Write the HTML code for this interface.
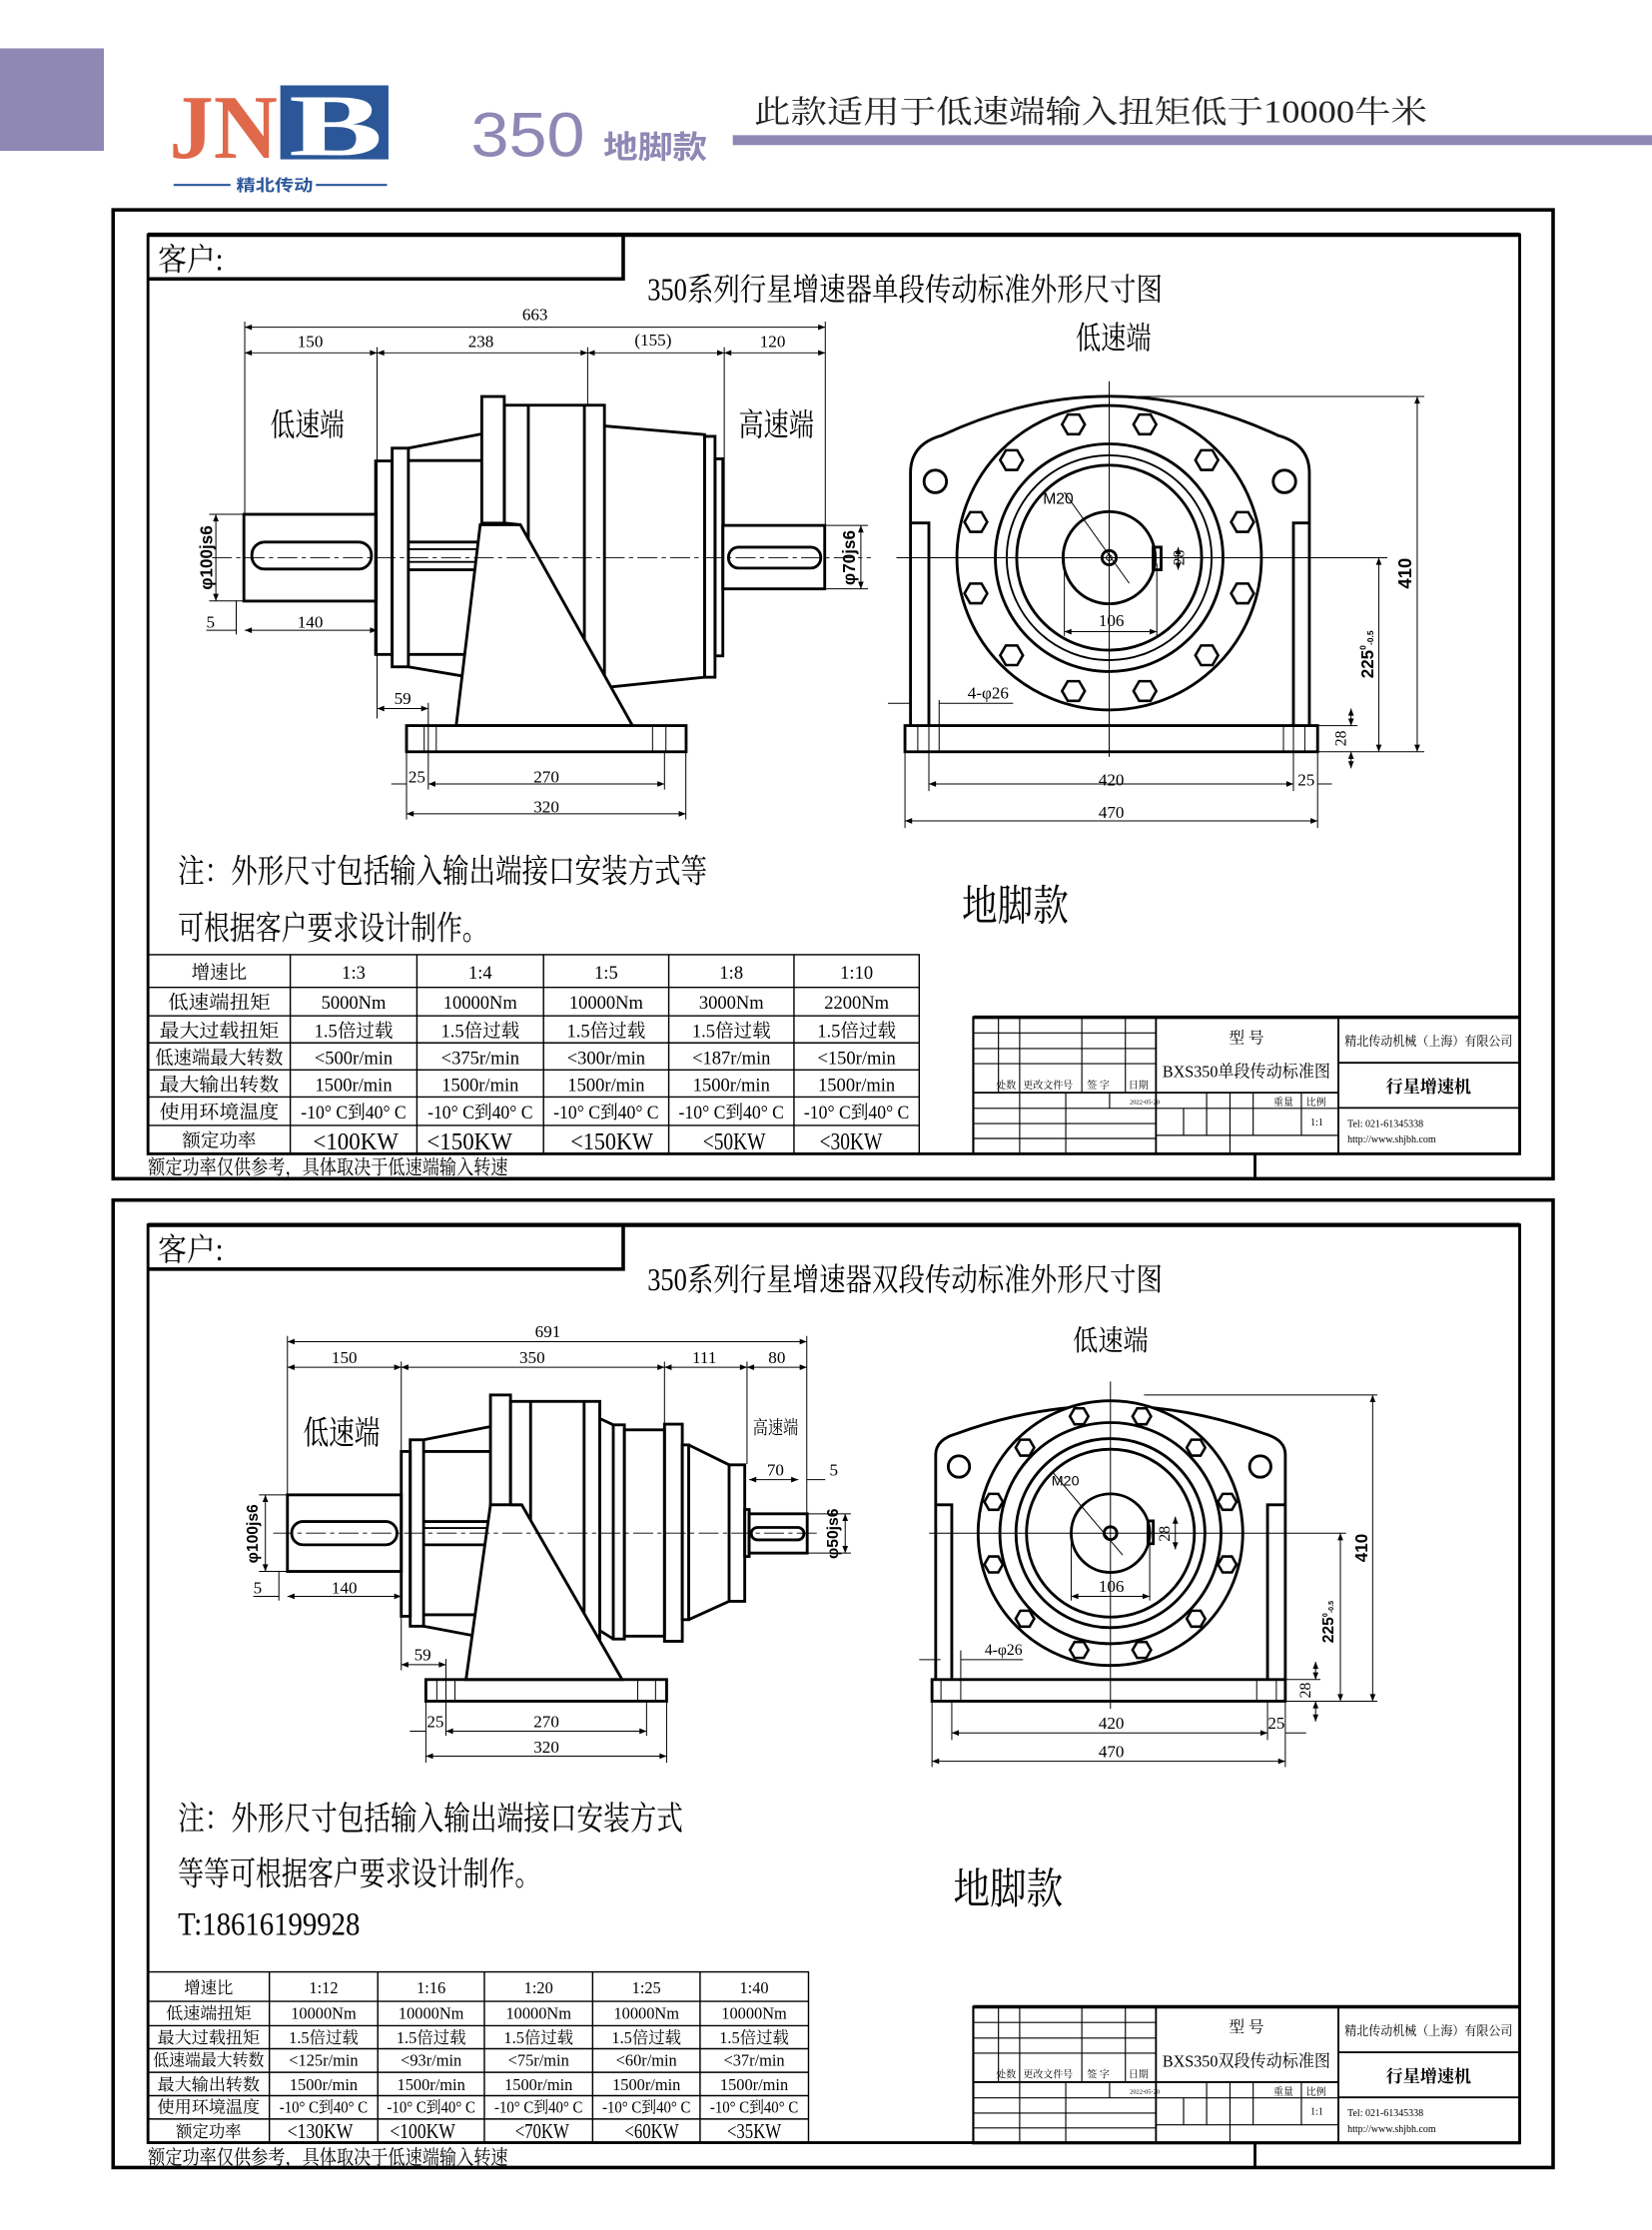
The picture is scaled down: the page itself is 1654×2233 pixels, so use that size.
<!DOCTYPE html>
<html><head><meta charset="utf-8">
<style>
html,body{margin:0;padding:0;background:#fff;}
svg{display:block;}
.t{fill:none;stroke:#000;stroke-width:2;}
.m{fill:none;stroke:#000;stroke-width:1.3;}
.n{fill:none;stroke:#000;stroke-width:0.7;}
.d{fill:none;stroke:#000;stroke-width:0.7;marker-start:url(#ar);marker-end:url(#ar);}
.c{fill:none;stroke:#000;stroke-width:0.6;stroke-dasharray:14 3 3 3;}
text{font-family:"Liberation Serif","Noto Serif CJK SC",serif;fill:#000;}
.s{font-family:"Liberation Sans","Noto Sans CJK SC",sans-serif;}
</style></head>
<body>
<svg width="1654" height="2233" viewBox="0 0 1161 1567.4" preserveAspectRatio="none" xmlns="http://www.w3.org/2000/svg">
<defs>
<marker id="ar" viewBox="0 0 10 10" refX="10" refY="5" markerWidth="6" markerHeight="5" markerUnits="userSpaceOnUse" orient="auto-start-reverse"><path d="M0,1 L10,5 L0,9z" fill="#000"/></marker>
<polygon id="hx" points="8,0 4,6.9 -4,6.9 -8,0 -4,-6.9 4,-6.9" fill="#fff" stroke="#000" stroke-width="1.8"/>
<polygon id="hy" points="6.5,0 3.25,5.6 -3.25,5.6 -6.5,0 -3.25,-5.6 3.25,-5.6" fill="#fff" stroke="#000" stroke-width="1.8"/>
</defs>

<!-- HEADER -->
<rect x="0" y="34" width="73" height="72" fill="#8f87b4"/>
<text x="119" y="111" font-size="64" font-weight="bold" fill="#e0694b" textLength="76" lengthAdjust="spacingAndGlyphs" style="fill:#e0694b">JN</text>
<rect x="197" y="60" width="76" height="52" fill="#2b5799"/>
<text x="203" y="109" font-size="62" font-weight="bold" textLength="66" lengthAdjust="spacingAndGlyphs" style="fill:#fff">B</text>
<line x1="122" y1="130" x2="162" y2="130" stroke="#2b5799" stroke-width="1.5"/>
<line x1="222" y1="130" x2="272" y2="130" stroke="#2b5799" stroke-width="1.5"/>
<text x="166" y="134" font-size="11" font-weight="bold" textLength="54" lengthAdjust="spacingAndGlyphs" class="s" style="fill:#2b5799">精北传动</text>
<text x="331" y="110" font-size="44" class="s" textLength="80" lengthAdjust="spacingAndGlyphs" style="fill:#8f87b4">350</text>
<text x="424" y="111" font-size="22" font-weight="bold" class="s" textLength="73" lengthAdjust="spacingAndGlyphs" style="fill:#8f87b4">地脚款</text>
<text x="530" y="86" font-size="22" textLength="473" lengthAdjust="spacingAndGlyphs" style="fill:#222">此款适用于低速端输入扭矩低于10000牛米</text>
<rect x="515" y="95" width="646" height="7" fill="#8f87b4"/>

<!-- ============ FRAME 1 ============ -->
<rect x="79.5" y="147.5" width="1012" height="681" fill="none" stroke="#000" stroke-width="2.5"/>
<rect x="104" y="165" width="964" height="646" fill="none" stroke="#000" stroke-width="2"/>
<line x1="104" y1="165" x2="1068" y2="165" stroke="#000" stroke-width="3"/>
<polyline points="104,196 438,196 438,165" fill="none" stroke="#000" stroke-width="2.5"/>
<line x1="882" y1="811" x2="882" y2="829" stroke="#000" stroke-width="2"/>
<text x="111" y="190" font-size="22" textLength="46" lengthAdjust="spacingAndGlyphs">客户:</text>
<text x="455" y="211" font-size="22" textLength="362" lengthAdjust="spacingAndGlyphs">350系列行星增速器单段传动标准外形尺寸图</text>

<!-- side view 1 -->
<g>
<rect class="t" x="171.4" y="361.5" width="93" height="61"/>
<rect class="t" x="177" y="381" width="84" height="19" rx="9"/>
<rect class="t" x="264" y="324" width="11.6" height="136"/>
<rect class="t" x="275.6" y="315" width="11.4" height="153.7"/>
<line class="t" x1="287" y1="315" x2="338.6" y2="305"/>
<line class="t" x1="287" y1="468.7" x2="324" y2="475"/>
<line class="t" x1="287" y1="323.7" x2="338.6" y2="323.7"/>
<line class="t" x1="287" y1="460" x2="326" y2="460"/>
<line class="t" x1="287" y1="381" x2="338" y2="381"/>
<line class="t" x1="287" y1="400.5" x2="333" y2="400.5"/>
<line class="m" x1="287" y1="386" x2="337" y2="386"/>
<line class="m" x1="287" y1="395" x2="335" y2="395"/>
<rect class="t" x="338.6" y="278.7" width="15.8" height="89"/>
<rect class="t" x="354.4" y="284.8" width="70.4" height="198.5"/>
<line class="t" x1="371.3" y1="284.8" x2="371.3" y2="483"/>
<line class="t" x1="410.7" y1="284.8" x2="410.7" y2="483"/>
<path class="t" d="M424.8,299.4 L495.2,305.5 L495.2,476 L424.8,483.3"/>
<rect class="t" x="495.2" y="306.7" width="7.3" height="169.3"/>
<rect class="t" x="502.5" y="322.5" width="5.5" height="138.5"/>
<path d="M337.5,368.8 L320.6,510 L444.5,510 L365.7,368.8 Z" fill="#fff" stroke="#000" stroke-width="2"/>
<line class="t" x1="354.4" y1="367.6" x2="365.7" y2="368.8"/>
<rect class="t" x="508" y="369.3" width="71.6" height="44.6"/>
<rect class="t" x="512" y="384.6" width="64.8" height="14.7" rx="7"/>
<rect class="t" x="285.7" y="510" width="196.5" height="18.4" fill="#fff"/>
<line class="n" x1="298.1" y1="510" x2="298.1" y2="528.4"/>
<line class="n" x1="306.6" y1="510" x2="306.6" y2="528.4"/>
<line class="n" x1="458.6" y1="510" x2="458.6" y2="528.4"/>
<line class="n" x1="468" y1="510" x2="468" y2="528.4"/>
<line class="c" x1="149" y1="392" x2="612" y2="392"/>
<!-- dims -->
<line class="n" x1="172" y1="226" x2="172" y2="361"/>
<line class="n" x1="265" y1="244" x2="265" y2="505"/>
<line class="n" x1="413" y1="244" x2="413" y2="284"/>
<line class="n" x1="509" y1="244" x2="509" y2="369"/>
<line class="n" x1="580" y1="226" x2="580" y2="369"/>
<line class="d" x1="172" y1="230" x2="580" y2="230"/>
<text x="376" y="225" font-size="12" text-anchor="middle">663</text>
<line class="d" x1="172" y1="248" x2="265" y2="248"/>
<line class="d" x1="265" y1="248" x2="413" y2="248"/>
<line class="d" x1="413" y1="248" x2="509" y2="248"/>
<line class="d" x1="509" y1="248" x2="580" y2="248"/>
<text x="218" y="244" font-size="12" text-anchor="middle">150</text>
<text x="338" y="244" font-size="12" text-anchor="middle">238</text>
<text x="459" y="243" font-size="12" text-anchor="middle">(155)</text>
<text x="543" y="244" font-size="12" text-anchor="middle">120</text>
<text x="190" y="306" font-size="22" textLength="52" lengthAdjust="spacingAndGlyphs">低速端</text>
<text x="519" y="306" font-size="22" textLength="53" lengthAdjust="spacingAndGlyphs">高速端</text>
<line class="n" x1="147" y1="361.5" x2="171" y2="361.5"/>
<line class="n" x1="147" y1="422.4" x2="171" y2="422.4"/>
<line class="d" x1="151.7" y1="361.5" x2="151.7" y2="422.4"/>
<text transform="translate(149,392) rotate(-90)" font-size="12" text-anchor="middle" class="s" font-weight="bold">φ100js6</text>
<line class="n" x1="580" y1="369.3" x2="610" y2="369.3"/>
<line class="n" x1="580" y1="413.9" x2="610" y2="413.9"/>
<line class="d" x1="605" y1="369.3" x2="605" y2="413.9"/>
<text transform="translate(601,392) rotate(-90)" font-size="12" text-anchor="middle" class="s" font-weight="bold">φ70js6</text>
<line class="n" x1="166" y1="422" x2="166" y2="446"/>
<line class="n" x1="145" y1="443" x2="166" y2="443"/>
<line class="d" x1="172" y1="443" x2="265" y2="443"/>
<text x="148" y="441" font-size="12" text-anchor="middle">5</text>
<text x="218" y="441" font-size="12" text-anchor="middle">140</text>
<line class="n" x1="301" y1="494" x2="301" y2="555"/>
<line class="d" x1="265" y1="498" x2="301" y2="498"/>
<text x="283" y="495" font-size="12" text-anchor="middle">59</text>
<line class="n" x1="285.7" y1="528" x2="285.7" y2="576"/>
<line class="n" x1="467" y1="528" x2="467" y2="555"/>
<line class="n" x1="482" y1="528" x2="482" y2="576"/>
<line class="n" x1="275" y1="551" x2="285.7" y2="551"/>
<line class="d" x1="301" y1="551" x2="467" y2="551"/>
<text x="293" y="550" font-size="12" text-anchor="middle">25</text>
<text x="384" y="550" font-size="12" text-anchor="middle">270</text>
<line class="d" x1="285.7" y1="572" x2="482" y2="572"/>
<text x="384" y="571" font-size="12" text-anchor="middle">320</text>
</g>

<!-- front view 1 -->
<g>
<path class="t" d="M639.9,510 L639.9,332 Q640,312 662,306 Q780,251 898,306 Q920,312 920.2,332 L920.2,510"/>
<path class="t" d="M639.9,367.6 H652.8 V510 M920.2,367.6 H909 V510"/>
<circle class="t" cx="657.3" cy="338.4" r="7.9"/>
<circle class="t" cx="902.7" cy="338.4" r="7.9"/>
<circle cx="779.5" cy="392" r="107" fill="#fff" stroke="#000" stroke-width="2"/>
<circle class="t" cx="779.5" cy="392" r="80"/>
<circle class="m" cx="779.5" cy="392" r="72"/>
<circle class="t" cx="779.5" cy="392" r="65"/>
<circle class="t" cx="779.5" cy="392" r="32.4"/>
<circle class="t" cx="779.5" cy="392" r="5"/>
<circle class="n" cx="779.5" cy="392" r="2"/>
<use href="#hx" x="873.2" y="417.1"/><use href="#hx" x="873.2" y="366.9"/>
<use href="#hx" x="685.8" y="417.1"/><use href="#hx" x="685.8" y="366.9"/>
<use href="#hx" x="848.1" y="460.6"/><use href="#hx" x="848.1" y="323.4"/>
<use href="#hx" x="710.9" y="460.6"/><use href="#hx" x="710.9" y="323.4"/>
<use href="#hx" x="804.6" y="485.7"/><use href="#hx" x="804.6" y="298.3"/>
<use href="#hx" x="754.4" y="485.7"/><use href="#hx" x="754.4" y="298.3"/>
<rect class="t" x="810.4" y="384.6" width="5.6" height="15.9"/>
<line class="n" x1="779.5" y1="268" x2="779.5" y2="532"/>
<line class="n" x1="630" y1="392" x2="935" y2="392"/>
<line class="n" x1="748" y1="346" x2="793.6" y2="410"/>
<text x="733" y="354" font-size="11" class="s">M20</text>
<line class="d" x1="828" y1="384.6" x2="828" y2="400.5"/>
<text transform="translate(832,392) rotate(-90)" font-size="11" text-anchor="middle">28</text>
<line class="n" x1="748" y1="392" x2="748" y2="447"/>
<line class="n" x1="813" y1="396" x2="813" y2="447"/>
<line class="d" x1="748" y1="444" x2="813" y2="444"/>
<text x="781" y="440" font-size="12" text-anchor="middle">106</text>
<rect class="t" x="636" y="510" width="290" height="18.4" fill="#fff"/>
<line class="n" x1="645" y1="510" x2="645" y2="528.4"/>
<line class="n" x1="652.8" y1="510" x2="652.8" y2="528.4"/>
<line class="n" x1="660" y1="492" x2="660" y2="528.4"/>
<line class="n" x1="902" y1="510" x2="902" y2="528.4"/>
<line class="n" x1="909" y1="510" x2="909" y2="528.4"/>
<line class="n" x1="917" y1="510" x2="917" y2="528.4"/>
<line class="n" x1="624" y1="494.3" x2="640" y2="494.3"/>
<line class="n" x1="660" y1="494.3" x2="712" y2="494.3"/>
<text x="680" y="491" font-size="12">4-φ26</text>
<line class="n" x1="780" y1="278.7" x2="1001" y2="278.7"/>
<line class="n" x1="926" y1="528.4" x2="1001" y2="528.4"/>
<line class="d" x1="996" y1="278.7" x2="996" y2="528.4"/>
<text transform="translate(992,403) rotate(-90)" font-size="13" text-anchor="middle" class="s" font-weight="bold">410</text>
<line class="n" x1="935" y1="392" x2="975" y2="392"/>
<line class="d" x1="969" y1="392" x2="969" y2="528.4"/>
<text transform="translate(965,460) rotate(-90)" font-size="12" text-anchor="middle" class="s" font-weight="bold">225<tspan font-size="6" dy="-5">0</tspan><tspan font-size="6" dy="5">-0.5</tspan></text>
<line class="n" x1="926" y1="510" x2="954" y2="510"/>
<line class="d" x1="949.5" y1="498" x2="949.5" y2="510"/>
<line class="d" x1="949.5" y1="540" x2="949.5" y2="528.4"/>
<text transform="translate(946,519) rotate(-90)" font-size="11" text-anchor="middle">28</text>
<line class="n" x1="652.8" y1="528" x2="652.8" y2="556"/>
<line class="n" x1="909" y1="528" x2="909" y2="556"/>
<line class="n" x1="636" y1="528" x2="636" y2="582"/>
<line class="n" x1="926" y1="528" x2="926" y2="582"/>
<line class="d" x1="652.8" y1="551" x2="909" y2="551"/>
<line class="n" x1="926" y1="551" x2="936" y2="551"/>
<text x="781" y="552" font-size="12" text-anchor="middle">420</text>
<text x="918" y="552" font-size="12" text-anchor="middle">25</text>
<line class="d" x1="636" y1="577" x2="926" y2="577"/>
<text x="781" y="575" font-size="12" text-anchor="middle">470</text>
<text x="756" y="245" font-size="22" textLength="53" lengthAdjust="spacingAndGlyphs">低速端</text>
</g>

<text x="125" y="620" font-size="23" textLength="372" lengthAdjust="spacingAndGlyphs">注：外形尺寸包括输入输出端接口安装方式等</text>
<text x="125" y="660" font-size="23" textLength="218" lengthAdjust="spacingAndGlyphs">可根据客户要求设计制作。</text>
<text x="676" y="647" font-size="30" textLength="75" lengthAdjust="spacingAndGlyphs">地脚款</text>

<!-- table 1 -->
<g stroke="#000" stroke-width="1" fill="none">
<rect x="104" y="671" width="542" height="140"/>
<line x1="104" y1="694" x2="646" y2="694"/><line x1="104" y1="714" x2="646" y2="714"/>
<line x1="104" y1="733" x2="646" y2="733"/><line x1="104" y1="752" x2="646" y2="752"/>
<line x1="104" y1="771" x2="646" y2="771"/><line x1="104" y1="791" x2="646" y2="791"/>
<line x1="204" y1="671" x2="204" y2="811"/><line x1="293" y1="671" x2="293" y2="811"/>
<line x1="382" y1="671" x2="382" y2="811"/><line x1="470" y1="671" x2="470" y2="811"/>
<line x1="558" y1="671" x2="558" y2="811"/>
</g>
<g font-size="13" text-anchor="middle">
<text x="154" y="688">增速比</text><text x="248.5" y="688">1:3</text><text x="337.5" y="688">1:4</text><text x="426" y="688">1:5</text><text x="514" y="688">1:8</text><text x="602" y="688">1:10</text>
<text x="154" y="709" textLength="72" lengthAdjust="spacingAndGlyphs">低速端扭矩</text><text x="248.5" y="709">5000Nm</text><text x="337.5" y="709">10000Nm</text><text x="426" y="709">10000Nm</text><text x="514" y="709">3000Nm</text><text x="602" y="709">2200Nm</text>
<text x="154" y="729" textLength="84" lengthAdjust="spacingAndGlyphs">最大过载扭矩</text><text x="248.5" y="729">1.5倍过载</text><text x="337.5" y="729">1.5倍过载</text><text x="426" y="729">1.5倍过载</text><text x="514" y="729">1.5倍过载</text><text x="602" y="729">1.5倍过载</text>
<text x="154" y="748" textLength="90" lengthAdjust="spacingAndGlyphs">低速端最大转数</text><text x="248.5" y="748">&lt;500r/min</text><text x="337.5" y="748">&lt;375r/min</text><text x="426" y="748">&lt;300r/min</text><text x="514" y="748">&lt;187r/min</text><text x="602" y="748">&lt;150r/min</text>
<text x="154" y="767" textLength="84" lengthAdjust="spacingAndGlyphs">最大输出转数</text><text x="248.5" y="767">1500r/min</text><text x="337.5" y="767">1500r/min</text><text x="426" y="767">1500r/min</text><text x="514" y="767">1500r/min</text><text x="602" y="767">1500r/min</text>
<text x="154" y="786" textLength="84" lengthAdjust="spacingAndGlyphs">使用环境温度</text><text x="248.5" y="786" textLength="74" lengthAdjust="spacingAndGlyphs">-10° C到40° C</text><text x="337.5" y="786" textLength="74" lengthAdjust="spacingAndGlyphs">-10° C到40° C</text><text x="426" y="786" textLength="74" lengthAdjust="spacingAndGlyphs">-10° C到40° C</text><text x="514" y="786" textLength="74" lengthAdjust="spacingAndGlyphs">-10° C到40° C</text><text x="602" y="786" textLength="74" lengthAdjust="spacingAndGlyphs">-10° C到40° C</text>
<text x="154" y="806">额定功率</text>
</g>
<g font-size="17" text-anchor="middle">
<text x="250" y="808" textLength="60" lengthAdjust="spacingAndGlyphs">&lt;100KW</text><text x="330" y="808" textLength="60" lengthAdjust="spacingAndGlyphs">&lt;150KW</text><text x="430" y="808" textLength="58" lengthAdjust="spacingAndGlyphs">&lt;150KW</text><text x="516" y="808" textLength="44" lengthAdjust="spacingAndGlyphs">&lt;50KW</text><text x="598" y="808" textLength="44" lengthAdjust="spacingAndGlyphs">&lt;30KW</text>
</g>
<text x="104" y="825" font-size="14" textLength="253" lengthAdjust="spacingAndGlyphs">额定功率仅供参考，具体取决于低速端输入转速</text>

<!-- title block 1 -->
<g stroke="#000" stroke-width="0.8" fill="none">
<rect x="684" y="715" width="384" height="96" stroke-width="1.5"/>
<line x1="684" y1="715" x2="1068" y2="715" stroke-width="2.5"/>
<line x1="812.4" y1="715" x2="812.4" y2="811" stroke-width="1.3"/>
<line x1="940.6" y1="715" x2="940.6" y2="811" stroke-width="1.3"/>
<line x1="701.7" y1="715" x2="701.7" y2="768"/><line x1="716.6" y1="715" x2="716.6" y2="811"/>
<line x1="760.3" y1="715" x2="760.3" y2="768"/><line x1="790.9" y1="715" x2="790.9" y2="768"/>
<line x1="684" y1="726" x2="812" y2="726"/><line x1="684" y1="737" x2="812" y2="737"/><line x1="684" y1="747.6" x2="812" y2="747.6"/>
<line x1="684" y1="768" x2="940" y2="768" stroke-width="1.3"/>
<line x1="749" y1="768" x2="749" y2="811"/><line x1="779.8" y1="768" x2="779.8" y2="779"/>
<line x1="684" y1="779" x2="812" y2="779"/><line x1="684" y1="789.7" x2="812" y2="789.7"/><line x1="684" y1="800.2" x2="812" y2="800.2"/>
<line x1="831.8" y1="779" x2="831.8" y2="798"/><line x1="848" y1="768" x2="848" y2="798"/><line x1="864.4" y1="768" x2="864.4" y2="811"/>
<line x1="880.7" y1="768" x2="880.7" y2="798"/><line x1="914.6" y1="768" x2="914.6" y2="798"/>
<line x1="812" y1="779" x2="940" y2="779"/><line x1="812" y1="798" x2="940" y2="798"/>
<line x1="940.6" y1="747" x2="1068" y2="747" stroke-width="1.3"/><line x1="940.6" y1="778.7" x2="1068" y2="778.7" stroke-width="1.3"/>
</g>
<g font-size="7">
<text x="700" y="765">处数</text><text x="719" y="765">更改文件号</text><text x="764" y="765">签 字</text><text x="793" y="765">日期</text>
<text x="794" y="776" font-size="4.5">2022-05-20</text>
<text x="895" y="777">重量</text><text x="918" y="777">比例</text><text x="921" y="791">1:1</text>
<text x="947" y="792">Tel: 021-61345338</text><text x="947" y="803">http://www.shjbh.com</text>
</g>
<text x="876" y="733" font-size="11" text-anchor="middle">型  号</text>
<text x="817" y="757" font-size="12" textLength="118" lengthAdjust="spacingAndGlyphs">BXS350单段传动标准图</text>
<text x="1004" y="735" font-size="9" text-anchor="middle" textLength="118" lengthAdjust="spacingAndGlyphs">精北传动机械（上海）有限公司</text>
<text x="1004" y="768" font-size="12" font-weight="bold" text-anchor="middle">行星增速机</text>

<!-- ============ FRAME 2 ============ -->
<rect x="79.5" y="843.5" width="1012" height="680" fill="none" stroke="#000" stroke-width="2.5"/>
<rect x="104" y="861" width="964" height="645" fill="none" stroke="#000" stroke-width="2"/>
<line x1="104" y1="861" x2="1068" y2="861" stroke="#000" stroke-width="3"/>
<polyline points="104,892 438,892 438,861" fill="none" stroke="#000" stroke-width="2.5"/>
<line x1="882" y1="1506" x2="882" y2="1524" stroke="#000" stroke-width="2"/>
<text x="111" y="886" font-size="22" textLength="46" lengthAdjust="spacingAndGlyphs">客户:</text>
<text x="455" y="907" font-size="22" textLength="362" lengthAdjust="spacingAndGlyphs">350系列行星增速器双段传动标准外形尺寸图</text>

<!-- side view 2 -->
<g>
<rect class="t" x="202" y="1050.7" width="80" height="53.8"/>
<rect class="t" x="205" y="1069.4" width="74" height="16.4" rx="8"/>
<rect class="t" x="282" y="1020.2" width="6.3" height="115.8"/>
<rect class="t" x="288.3" y="1012" width="9.4" height="131"/>
<line class="t" x1="297.7" y1="1012" x2="344.7" y2="1002.7"/>
<line class="t" x1="297.7" y1="1143" x2="332" y2="1149.5"/>
<line class="t" x1="297.7" y1="1020.2" x2="344.7" y2="1020.2"/>
<line class="t" x1="297.7" y1="1135" x2="336" y2="1135"/>
<line class="t" x1="297.7" y1="1069.4" x2="344.7" y2="1069.4"/>
<line class="t" x1="297.7" y1="1085.8" x2="341" y2="1085.8"/>
<line class="m" x1="297.7" y1="1074" x2="344" y2="1074"/>
<rect class="t" x="344.7" y="980.5" width="14.1" height="77.2"/>
<rect class="t" x="358.8" y="985" width="62.7" height="168.6"/>
<line class="t" x1="372.9" y1="985" x2="372.9" y2="1153"/>
<line class="t" x1="410.5" y1="985" x2="410.5" y2="1153"/>
<path class="t" d="M421.5,997 L431,1001.5 M421.5,1146 L431,1152"/>
<rect class="t" x="431" y="1001.5" width="7.8" height="150.5"/>
<rect class="t" x="438.8" y="1005" width="28.2" height="145"/>
<rect class="t" x="467" y="1001" width="12.5" height="152.6"/>
<rect class="t" x="479.5" y="1015.6" width="4.5" height="122.8"/>
<path class="t" d="M484,1015.6 L512.4,1029.6 M484,1138.4 L512.4,1125.5"/>
<rect class="t" x="512.4" y="1029.6" width="11" height="95.9"/>
<rect class="t" x="523.4" y="1061" width="3.1" height="33"/>
<path d="M344.7,1057.7 L327.5,1180.5 L437.2,1180.5 L366.7,1057.7 Z" fill="#fff" stroke="#000" stroke-width="2"/>
<line class="t" x1="358.8" y1="1057.7" x2="366.7" y2="1057.7"/>
<rect class="t" x="526.5" y="1064" width="40.8" height="27.6"/>
<rect class="t" x="528" y="1073.6" width="37" height="8.7" rx="4.3"/>
<rect class="t" x="299.3" y="1180.5" width="169.2" height="15.2" fill="#fff"/>
<line class="n" x1="307" y1="1180.5" x2="307" y2="1195.7"/>
<line class="n" x1="319.7" y1="1180.5" x2="319.7" y2="1195.7"/>
<line class="n" x1="448.2" y1="1180.5" x2="448.2" y2="1195.7"/>
<line class="n" x1="460.7" y1="1180.5" x2="460.7" y2="1195.7"/>
<line class="c" x1="192" y1="1077.6" x2="574" y2="1077.6"/>
<!-- dims -->
<line class="n" x1="202" y1="939" x2="202" y2="1050"/>
<line class="n" x1="282" y1="957" x2="282" y2="1174"/>
<line class="n" x1="467" y1="957" x2="467" y2="1001"/>
<line class="n" x1="525" y1="957" x2="525" y2="1029"/>
<line class="n" x1="567" y1="939" x2="567" y2="1064"/>
<line class="d" x1="202" y1="943" x2="567" y2="943"/>
<text x="385" y="940" font-size="12" text-anchor="middle">691</text>
<line class="d" x1="202" y1="961" x2="282" y2="961"/>
<line class="d" x1="282" y1="961" x2="467" y2="961"/>
<line class="d" x1="467" y1="961" x2="525" y2="961"/>
<line class="d" x1="525" y1="961" x2="567" y2="961"/>
<text x="242" y="958" font-size="12" text-anchor="middle">150</text>
<text x="374" y="958" font-size="12" text-anchor="middle">350</text>
<text x="495" y="958" font-size="12" text-anchor="middle">111</text>
<text x="546" y="958" font-size="12" text-anchor="middle">80</text>
<text x="213" y="1015" font-size="23" textLength="54" lengthAdjust="spacingAndGlyphs">低速端</text>
<text x="529" y="1008" font-size="13" textLength="32" lengthAdjust="spacingAndGlyphs">高速端</text>
<line class="d" x1="526.5" y1="1040" x2="561" y2="1040"/>
<line class="n" x1="567" y1="1040" x2="580" y2="1040"/>
<text x="545" y="1037" font-size="12" text-anchor="middle">70</text>
<text x="586" y="1037" font-size="12" text-anchor="middle">5</text>
<line class="n" x1="567" y1="1064" x2="598" y2="1064"/>
<line class="n" x1="567" y1="1091.6" x2="598" y2="1091.6"/>
<line class="d" x1="594" y1="1064" x2="594" y2="1091.6"/>
<text transform="translate(589,1078) rotate(-90)" font-size="11" text-anchor="middle" class="s" font-weight="bold">φ50js6</text>
<line class="n" x1="182" y1="1050.7" x2="202" y2="1050.7"/>
<line class="n" x1="182" y1="1104.5" x2="202" y2="1104.5"/>
<line class="d" x1="186.5" y1="1050.7" x2="186.5" y2="1104.5"/>
<text transform="translate(181,1078) rotate(-90)" font-size="11" text-anchor="middle" class="s" font-weight="bold">φ100js6</text>
<line class="n" x1="196" y1="1104" x2="196" y2="1125"/>
<line class="n" x1="178" y1="1122" x2="196" y2="1122"/>
<line class="d" x1="202" y1="1122" x2="282" y2="1122"/>
<text x="181" y="1120" font-size="12" text-anchor="middle">5</text>
<text x="242" y="1120" font-size="12" text-anchor="middle">140</text>
<line class="n" x1="313.4" y1="1166" x2="313.4" y2="1220"/>
<line class="d" x1="282" y1="1170" x2="313.4" y2="1170"/>
<text x="297" y="1167" font-size="12" text-anchor="middle">59</text>
<line class="n" x1="299.3" y1="1195" x2="299.3" y2="1239"/>
<line class="n" x1="454.4" y1="1195" x2="454.4" y2="1220"/>
<line class="n" x1="468.5" y1="1195" x2="468.5" y2="1239"/>
<line class="n" x1="288" y1="1216.8" x2="299.3" y2="1216.8"/>
<line class="d" x1="313.4" y1="1216.8" x2="454.4" y2="1216.8"/>
<text x="306" y="1214" font-size="12" text-anchor="middle">25</text>
<text x="384" y="1214" font-size="12" text-anchor="middle">270</text>
<line class="d" x1="299.3" y1="1234.3" x2="468.5" y2="1234.3"/>
<text x="384" y="1232" font-size="12" text-anchor="middle">320</text>
</g>

<!-- front view 2 -->
<g>
<path class="t" d="M657.6,1180.5 L657.6,1022 Q658,1012 671.4,1008 Q780,968 889.5,1008 Q903,1012 903.3,1022 L903.3,1180.5"/>
<path class="t" d="M657.6,1057.7 H668.9 V1180.5 M903.3,1057.7 H890.8 V1180.5"/>
<circle class="t" cx="673.9" cy="1030.8" r="7.5"/>
<circle class="t" cx="885.7" cy="1030.8" r="7.5"/>
<circle cx="780.4" cy="1077.6" r="93" fill="#fff" stroke="#000" stroke-width="2"/>
<circle class="t" cx="780.4" cy="1077.6" r="77.7"/>
<circle class="t" cx="780.4" cy="1077.6" r="66.4"/>
<circle class="t" cx="780.4" cy="1077.6" r="59"/>
<circle class="t" cx="780.4" cy="1077.6" r="27.6"/>
<circle class="t" cx="780.4" cy="1077.6" r="4.5"/>
<use href="#hy" x="862.5" y="1099.6"/><use href="#hy" x="862.5" y="1055.6"/>
<use href="#hy" x="698.3" y="1099.6"/><use href="#hy" x="698.3" y="1055.6"/>
<use href="#hy" x="840.5" y="1137.7"/><use href="#hy" x="840.5" y="1017.5"/>
<use href="#hy" x="720.3" y="1137.7"/><use href="#hy" x="720.3" y="1017.5"/>
<use href="#hy" x="802.4" y="1159.7"/><use href="#hy" x="802.4" y="995.5"/>
<use href="#hy" x="758.4" y="1159.7"/><use href="#hy" x="758.4" y="995.5"/>
<rect class="t" x="806.8" y="1069" width="3.7" height="16"/>
<line class="n" x1="780.4" y1="971" x2="780.4" y2="1201"/>
<line class="n" x1="653" y1="1077.6" x2="905" y2="1077.6"/>
<line class="n" x1="740" y1="1035" x2="789" y2="1093"/>
<text x="739" y="1044" font-size="10" class="s">M20</text>
<line class="d" x1="826" y1="1066" x2="826" y2="1089"/>
<text transform="translate(822,1078) rotate(-90)" font-size="11" text-anchor="middle">28</text>
<line class="n" x1="752.8" y1="1077.6" x2="752.8" y2="1125"/>
<line class="n" x1="808" y1="1085" x2="808" y2="1125"/>
<line class="d" x1="752.8" y1="1122" x2="808" y2="1122"/>
<text x="781" y="1119" font-size="12" text-anchor="middle">106</text>
<rect class="t" x="655" y="1180.5" width="248.3" height="15.2" fill="#fff"/>
<line class="n" x1="661.3" y1="1180.5" x2="661.3" y2="1195.7"/>
<line class="n" x1="675.2" y1="1160" x2="675.2" y2="1195.7"/>
<line class="n" x1="883.2" y1="1180.5" x2="883.2" y2="1195.7"/>
<line class="n" x1="897" y1="1180.5" x2="897" y2="1195.7"/>
<line class="n" x1="646" y1="1166.5" x2="661" y2="1166.5"/>
<line class="n" x1="675" y1="1166.5" x2="719" y2="1166.5"/>
<text x="692" y="1163" font-size="11">4-φ26</text>
<line class="n" x1="804" y1="980.5" x2="968" y2="980.5"/>
<line class="n" x1="903" y1="1195.7" x2="968" y2="1195.7"/>
<line class="d" x1="964.7" y1="980.5" x2="964.7" y2="1195.7"/>
<text transform="translate(961,1088) rotate(-90)" font-size="12" text-anchor="middle" class="s" font-weight="bold">410</text>
<line class="n" x1="905" y1="1077.6" x2="946" y2="1077.6"/>
<line class="d" x1="942" y1="1077.6" x2="942" y2="1195.7"/>
<text transform="translate(937,1140) rotate(-90)" font-size="11" text-anchor="middle" class="s" font-weight="bold">225<tspan font-size="5" dy="-4">0</tspan><tspan font-size="5" dy="4">-0.5</tspan></text>
<line class="n" x1="903" y1="1180.5" x2="928" y2="1180.5"/>
<line class="d" x1="924.6" y1="1168" x2="924.6" y2="1180.5"/>
<line class="d" x1="924.6" y1="1210" x2="924.6" y2="1195.7"/>
<text transform="translate(921,1188) rotate(-90)" font-size="11" text-anchor="middle">28</text>
<line class="n" x1="668.9" y1="1195" x2="668.9" y2="1223"/>
<line class="n" x1="890.8" y1="1195" x2="890.8" y2="1223"/>
<line class="n" x1="655" y1="1195" x2="655" y2="1242"/>
<line class="n" x1="903.3" y1="1195" x2="903.3" y2="1242"/>
<line class="d" x1="668.9" y1="1218" x2="890.8" y2="1218"/>
<line class="n" x1="903.3" y1="1218" x2="918" y2="1218"/>
<text x="781" y="1215" font-size="12" text-anchor="middle">420</text>
<text x="897" y="1215" font-size="12" text-anchor="middle">25</text>
<line class="d" x1="655" y1="1237.9" x2="903.3" y2="1237.9"/>
<text x="781" y="1235" font-size="12" text-anchor="middle">470</text>
<text x="754" y="949" font-size="20" textLength="53" lengthAdjust="spacingAndGlyphs">低速端</text>
</g>

<text x="125" y="1286" font-size="23" textLength="355" lengthAdjust="spacingAndGlyphs">注：外形尺寸包括输入输出端接口安装方式</text>
<text x="125" y="1325" font-size="23" textLength="255" lengthAdjust="spacingAndGlyphs">等等可根据客户要求设计制作。</text>
<text x="125" y="1360" font-size="23" textLength="128" lengthAdjust="spacingAndGlyphs">T:18616199928</text>
<text x="670" y="1338" font-size="30" textLength="77" lengthAdjust="spacingAndGlyphs">地脚款</text>

<!-- table 2 -->
<g stroke="#000" stroke-width="1" fill="none">
<rect x="104" y="1386" width="464.2" height="119.7"/>
<line x1="104" y1="1406.7" x2="568" y2="1406.7"/><line x1="104" y1="1423.8" x2="568" y2="1423.8"/>
<line x1="104" y1="1440" x2="568" y2="1440"/><line x1="104" y1="1456.6" x2="568" y2="1456.6"/>
<line x1="104" y1="1473" x2="568" y2="1473"/><line x1="104" y1="1489.4" x2="568" y2="1489.4"/>
<line x1="189.3" y1="1386" x2="189.3" y2="1505.7"/><line x1="265.5" y1="1386" x2="265.5" y2="1505.7"/>
<line x1="340.4" y1="1386" x2="340.4" y2="1505.7"/><line x1="416.5" y1="1386" x2="416.5" y2="1505.7"/>
<line x1="492" y1="1386" x2="492" y2="1505.7"/>
</g>
<g font-size="11.5" text-anchor="middle">
<text x="146.6" y="1401">增速比</text><text x="227.4" y="1401">1:12</text><text x="303" y="1401">1:16</text><text x="378.5" y="1401">1:20</text><text x="454.3" y="1401">1:25</text><text x="530" y="1401">1:40</text>
<text x="146.6" y="1419" textLength="60" lengthAdjust="spacingAndGlyphs">低速端扭矩</text><text x="227.4" y="1419">10000Nm</text><text x="303" y="1419">10000Nm</text><text x="378.5" y="1419">10000Nm</text><text x="454.3" y="1419">10000Nm</text><text x="530" y="1419">10000Nm</text>
<text x="146.6" y="1436" textLength="72" lengthAdjust="spacingAndGlyphs">最大过载扭矩</text><text x="227.4" y="1436">1.5倍过载</text><text x="303" y="1436">1.5倍过载</text><text x="378.5" y="1436">1.5倍过载</text><text x="454.3" y="1436">1.5倍过载</text><text x="530" y="1436">1.5倍过载</text>
<text x="146.6" y="1452" textLength="78" lengthAdjust="spacingAndGlyphs">低速端最大转数</text><text x="227.4" y="1452">&lt;125r/min</text><text x="303" y="1452">&lt;93r/min</text><text x="378.5" y="1452">&lt;75r/min</text><text x="454.3" y="1452">&lt;60r/min</text><text x="530" y="1452">&lt;37r/min</text>
<text x="146.6" y="1469" textLength="72" lengthAdjust="spacingAndGlyphs">最大输出转数</text><text x="227.4" y="1469">1500r/min</text><text x="303" y="1469">1500r/min</text><text x="378.5" y="1469">1500r/min</text><text x="454.3" y="1469">1500r/min</text><text x="530" y="1469">1500r/min</text>
<text x="146.6" y="1485" textLength="72" lengthAdjust="spacingAndGlyphs">使用环境温度</text><text x="227.4" y="1485" textLength="62" lengthAdjust="spacingAndGlyphs">-10° C到40° C</text><text x="303" y="1485" textLength="62" lengthAdjust="spacingAndGlyphs">-10° C到40° C</text><text x="378.5" y="1485" textLength="62" lengthAdjust="spacingAndGlyphs">-10° C到40° C</text><text x="454.3" y="1485" textLength="62" lengthAdjust="spacingAndGlyphs">-10° C到40° C</text><text x="530" y="1485" textLength="62" lengthAdjust="spacingAndGlyphs">-10° C到40° C</text>
<text x="146.6" y="1502">额定功率</text>
</g>
<g font-size="15" text-anchor="middle">
<text x="225" y="1503" textLength="46" lengthAdjust="spacingAndGlyphs">&lt;130KW</text><text x="297" y="1503" textLength="46" lengthAdjust="spacingAndGlyphs">&lt;100KW</text><text x="381" y="1503" textLength="38" lengthAdjust="spacingAndGlyphs">&lt;70KW</text><text x="458" y="1503" textLength="38" lengthAdjust="spacingAndGlyphs">&lt;60KW</text><text x="530" y="1503" textLength="38" lengthAdjust="spacingAndGlyphs">&lt;35KW</text>
</g>
<text x="104" y="1521" font-size="14" textLength="253" lengthAdjust="spacingAndGlyphs">额定功率仅供参考，具体取决于低速端输入转速</text>

<!-- title block 2 -->
<g transform="translate(0,695.5)">
<g stroke="#000" stroke-width="0.8" fill="none">
<rect x="684" y="715" width="384" height="96" stroke-width="1.5"/>
<line x1="684" y1="715" x2="1068" y2="715" stroke-width="2.5"/>
<line x1="812.4" y1="715" x2="812.4" y2="811" stroke-width="1.3"/>
<line x1="940.6" y1="715" x2="940.6" y2="811" stroke-width="1.3"/>
<line x1="701.7" y1="715" x2="701.7" y2="768"/><line x1="716.6" y1="715" x2="716.6" y2="811"/>
<line x1="760.3" y1="715" x2="760.3" y2="768"/><line x1="790.9" y1="715" x2="790.9" y2="768"/>
<line x1="684" y1="726" x2="812" y2="726"/><line x1="684" y1="737" x2="812" y2="737"/><line x1="684" y1="747.6" x2="812" y2="747.6"/>
<line x1="684" y1="768" x2="940" y2="768" stroke-width="1.3"/>
<line x1="749" y1="768" x2="749" y2="811"/><line x1="779.8" y1="768" x2="779.8" y2="779"/>
<line x1="684" y1="779" x2="812" y2="779"/><line x1="684" y1="789.7" x2="812" y2="789.7"/><line x1="684" y1="800.2" x2="812" y2="800.2"/>
<line x1="831.8" y1="779" x2="831.8" y2="798"/><line x1="848" y1="768" x2="848" y2="798"/><line x1="864.4" y1="768" x2="864.4" y2="811"/>
<line x1="880.7" y1="768" x2="880.7" y2="798"/><line x1="914.6" y1="768" x2="914.6" y2="798"/>
<line x1="812" y1="779" x2="940" y2="779"/><line x1="812" y1="798" x2="940" y2="798"/>
<line x1="940.6" y1="747" x2="1068" y2="747" stroke-width="1.3"/><line x1="940.6" y1="778.7" x2="1068" y2="778.7" stroke-width="1.3"/>
</g>
<g font-size="7">
<text x="700" y="765">处数</text><text x="719" y="765">更改文件号</text><text x="764" y="765">签 字</text><text x="793" y="765">日期</text>
<text x="794" y="776" font-size="4.5">2022-05-20</text>
<text x="895" y="777">重量</text><text x="918" y="777">比例</text><text x="921" y="791">1:1</text>
<text x="947" y="792">Tel: 021-61345338</text><text x="947" y="803">http://www.shjbh.com</text>
</g>
<text x="876" y="733" font-size="11" text-anchor="middle">型  号</text>
<text x="817" y="757" font-size="12" textLength="118" lengthAdjust="spacingAndGlyphs">BXS350双段传动标准图</text>
<text x="1004" y="735" font-size="9" text-anchor="middle" textLength="118" lengthAdjust="spacingAndGlyphs">精北传动机械（上海）有限公司</text>
<text x="1004" y="768" font-size="12" font-weight="bold" text-anchor="middle">行星增速机</text>
</g>
</svg>
</body></html>
